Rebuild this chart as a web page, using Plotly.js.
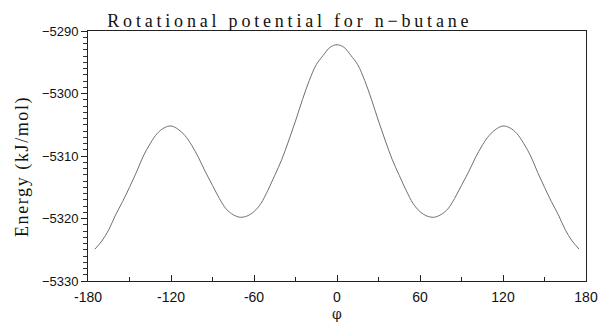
<!DOCTYPE html>
<html>
<head>
<meta charset="utf-8">
<script src="https://cdn.plot.ly/plotly-3.0.1.min.js"></script>
<style>
html,body{margin:0;padding:0;background:#fff;}
#chart{width:600px;height:325px;}
.gtitle{letter-spacing:3.8px;}
.annotation-text{letter-spacing:1.6px;}
</style>
</head>
<body>
<div id="chart"></div>
<script>
const phi = [-175,-170,-165,-160,-155,-150,-145,-140,-135,-130,-125,-120,-115,-110,-105,-100,-95,-90,-85,-80,-75,-70,-65,-60,-55,-50,-45,-40,-35,-30,-25,-20,-15,-10,-5,0,5,10,15,20,25,30,35,40,45,50,55,60,65,70,75,80,85,90,95,100,105,110,115,120,125,130,135,140,145,150,155,160,165,170,175];
const energy = [-5324.9,-5323.6,-5321.8,-5319.4,-5317.3,-5315.0,-5312.6,-5310.0,-5308.0,-5306.4,-5305.5,-5305.2,-5305.7,-5306.7,-5308.3,-5310.3,-5312.6,-5314.7,-5316.8,-5318.5,-5319.4,-5319.8,-5319.6,-5318.9,-5317.6,-5315.5,-5313.1,-5310.6,-5307.6,-5304.4,-5301.0,-5297.9,-5295.4,-5293.9,-5292.6,-5292.2,-5292.6,-5293.9,-5295.4,-5297.9,-5301.0,-5304.4,-5307.6,-5310.6,-5313.1,-5315.5,-5317.6,-5318.9,-5319.6,-5319.8,-5319.4,-5318.5,-5316.8,-5314.7,-5312.6,-5310.3,-5308.3,-5306.7,-5305.7,-5305.2,-5305.5,-5306.4,-5308.0,-5310.0,-5312.6,-5315.0,-5317.3,-5319.4,-5321.8,-5323.6,-5324.9];
const xTicks = [-180,-120,-60,0,60,120,180];
const yTicks = [-5330,-5320,-5310,-5300,-5290];
const yTitle = 'Energy (kJ/mol)';

const trace = {
  x: phi, y: energy, type: 'scatter', mode: 'lines',
  line: {color: '#707070', width: 1, shape: 'spline'},
  hoverinfo: 'skip'
};
const layout = {
  width: 600, height: 325,
  margin: {l: 88, r: 14, t: 31, b: 44},
  paper_bgcolor: '#fff', plot_bgcolor: '#fff',
  showlegend: false,
  title: {
    text: 'Rotational potential for n−butane',
    font: {family: 'Liberation Serif, DejaVu Serif, serif', size: 18, color: '#111'},
    xref: 'container', x: 0.483, xanchor: 'center', yref: 'container', y: 0.955, yanchor: 'top'
  },
  annotations: [{
    text: yTitle, textangle: -90, showarrow: false,
    xref: 'paper', x: 0, xanchor: 'center', xshift: -66,
    yref: 'paper', y: 0.5, yanchor: 'middle', yshift: -11,
    font: {family: 'Liberation Serif, DejaVu Serif, serif', size: 18, color: '#111'}
  }],
  xaxis: {
    range: [-180, 180], tickvals: xTicks, ticktext: xTicks.map(String),
    showgrid: false, zeroline: false,
    showline: true, linecolor: '#222', linewidth: 1, mirror: true,
    ticks: 'inside', ticklen: 6, tickcolor: '#222', ticklabelstandoff: 3,
    minor: {dtick: 30, tick0: -180, ticks: 'inside', ticklen: 4, tickcolor: '#222', showgrid: false},
    tickfont: {family: 'Liberation Sans, Arial, sans-serif', size: 14, color: '#111'},
    title: {text: 'φ', font: {family: 'DejaVu Serif, serif', size: 14, color: '#222'}, standoff: 5}
  },
  yaxis: {
    range: [-5330, -5290], tickvals: yTicks,
    showgrid: false, zeroline: false,
    showline: true, linecolor: '#222', linewidth: 1, mirror: true,
    ticks: 'outside', ticklen: 6, tickcolor: '#222',
    minor: {dtick: 1, tick0: -5330, ticks: 'outside', ticklen: 4, tickcolor: '#333', showgrid: false},
    tickfont: {family: 'Liberation Sans, Arial, sans-serif', size: 13, color: '#111'}
  }
};
Plotly.newPlot('chart', [trace], layout, {staticPlot: true, displayModeBar: false});
</script>
</body>
</html>
